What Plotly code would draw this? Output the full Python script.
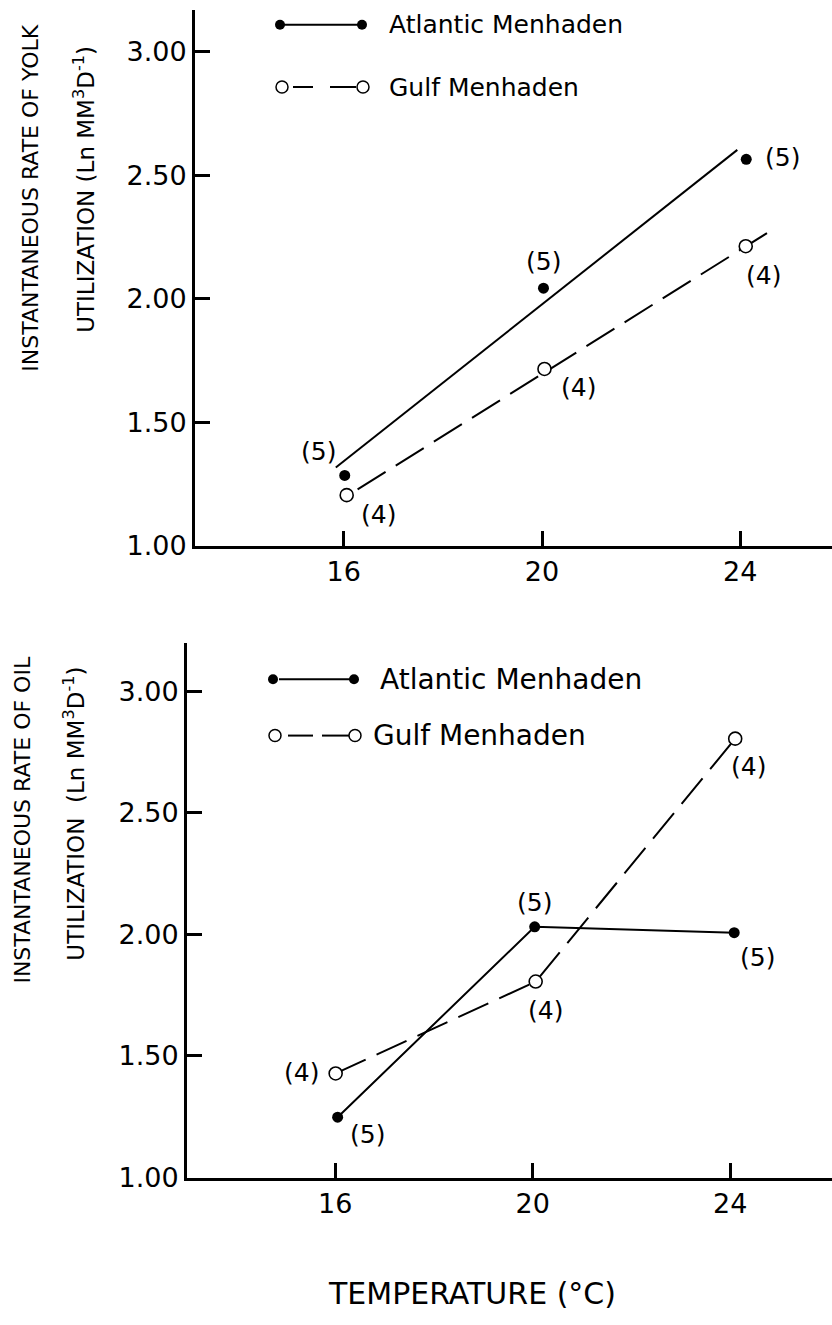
import plotly.graph_objects as go

W, H = 832, 1325
FONT = "DejaVu Sans"

# ---------------- data ----------------
# Yolk utilization (upper panel)
yolk_atl_x = [16.02, 20.03, 24.12]
yolk_atl_y = [1.285, 2.043, 2.565]
yolk_gulf_x = [16.06, 20.05, 24.11]
yolk_gulf_y = [1.205, 1.716, 2.213]
yolk_atl_n = ["(5)", "(5)", "(5)"]
yolk_gulf_n = ["(4)", "(4)", "(4)"]

# fitted lines through the yolk data (end points)
yolk_atl_fit_x = [15.84, 23.94]
yolk_atl_fit_y = [1.317, 2.603]
yolk_gulf_fit_x = [16.28, 24.61]
yolk_gulf_fit_y = [1.228, 2.275]

# Oil utilization (lower panel)
oil_atl_x = [16.05, 20.04, 24.08]
oil_atl_y = [1.248, 2.031, 2.007]
oil_gulf_x = [16.01, 20.06, 24.10]
oil_gulf_y = [1.428, 1.806, 2.805]
oil_atl_n = ["(5)", "(5)", "(5)"]
oil_gulf_n = ["(4)", "(4)", "(4)"]

xtick_vals = [16, 20, 24]
xtick_text = ["16", "20", "24"]
ytick_vals = [1.0, 1.5, 2.0, 2.5, 3.0]
ytick_text = ["1.00", "1.50", "2.00", "2.50", "3.00"]

series_names = ["Atlantic Menhaden", "Gulf Menhaden"]

# ---------------- styling / layout helpers ----------------
# count-label offsets (pixels: right, up) relative to each point
yolk_atl_off = [(-26, 24), (0, 27), (36, 2)]
yolk_gulf_off = [(32, -19), (34, -19), (18, -29)]
oil_atl_off = [(30, -17), (0, 24), (23, -25)]
oil_gulf_off = [(-34, 1), (10, -29), (13, -28)]


def px(x, y):
    """pixel position -> paper coordinates"""
    return x / W, 1 - y / H


DASH = "33px,12px"
LW = 2
FILLED = dict(color="black", size=11)
OPEN = dict(color="white", size=13, line=dict(color="black", width=1.6))

fig = go.Figure()

# ---- upper panel ----
fig.add_trace(go.Scatter(x=yolk_atl_fit_x, y=yolk_atl_fit_y, mode="lines",
                         line=dict(color="black", width=LW), xaxis="x", yaxis="y",
                         showlegend=False, hoverinfo="skip"))
fig.add_trace(go.Scatter(x=yolk_gulf_fit_x, y=yolk_gulf_fit_y, mode="lines",
                         line=dict(color="black", width=LW, dash=DASH), xaxis="x", yaxis="y",
                         showlegend=False, hoverinfo="skip"))
fig.add_trace(go.Scatter(x=yolk_atl_x, y=yolk_atl_y, mode="markers", marker=FILLED,
                         name=series_names[0], xaxis="x", yaxis="y", showlegend=False))
fig.add_trace(go.Scatter(x=yolk_gulf_x, y=yolk_gulf_y, mode="markers", marker=OPEN,
                         name=series_names[1], xaxis="x", yaxis="y", showlegend=False))

# ---- lower panel ----
fig.add_trace(go.Scatter(x=oil_atl_x, y=oil_atl_y, mode="lines",
                         line=dict(color="black", width=LW), xaxis="x2", yaxis="y2",
                         showlegend=False, hoverinfo="skip"))
fig.add_trace(go.Scatter(x=oil_gulf_x, y=oil_gulf_y, mode="lines",
                         line=dict(color="black", width=LW, dash=DASH), xaxis="x2", yaxis="y2",
                         showlegend=False, hoverinfo="skip"))
fig.add_trace(go.Scatter(x=oil_atl_x, y=oil_atl_y, mode="markers", marker=FILLED,
                         name=series_names[0], xaxis="x2", yaxis="y2", showlegend=False))
fig.add_trace(go.Scatter(x=oil_gulf_x, y=oil_gulf_y, mode="markers", marker=OPEN,
                         name=series_names[1], xaxis="x2", yaxis="y2", showlegend=False))

# ---- key glyphs (drawn on a full-page pixel axis) ----
keys = [
    dict(y=25, x0=280, x1=362, segs=[(284, 358)], tx=387, fs=25, filled=True),
    dict(y=88, x0=282, x1=363, segs=[(293, 313), (330, 356)], tx=387, fs=25, filled=False),
    dict(y=687, x0=273, x1=354, segs=[(279, 350)], tx=378, fs=28, filled=True),
    dict(y=744, x0=275, x1=355, segs=[(288, 313), (322, 349)], tx=371, fs=28, filled=False),
]
for i, k in enumerate(keys):
    sx, sy = [], []
    for a, b in k["segs"]:
        sx += [a, b, None]
        sy += [k["y"], k["y"], None]
    fig.add_trace(go.Scatter(x=sx, y=sy, mode="lines", line=dict(color="black", width=LW),
                             xaxis="x3", yaxis="y3", showlegend=False, hoverinfo="skip"))
    mk = dict(color="black", size=10) if k["filled"] else dict(color="white", size=12, line=dict(color="black", width=1.5))
    fig.add_trace(go.Scatter(x=[k["x0"], k["x1"]], y=[k["y"], k["y"]], mode="markers", marker=mk,
                             xaxis="x3", yaxis="y3", showlegend=False, hoverinfo="skip"))
    fx, fy = px(k["tx"], k["y"])
    fig.add_annotation(x=fx, y=fy, xref="paper", yref="paper", text=series_names[i % 2],
                       showarrow=False, xanchor="left", yanchor="middle",
                       font=dict(family=FONT, size=k["fs"], color="black"))

# ---- count labels ----
def add_counts(xs, ys, labels, offs, xr, yr):
    for x, y, t, (dx, dy) in zip(xs, ys, labels, offs):
        fig.add_annotation(x=x, y=y, xref=xr, yref=yr, text=t, showarrow=False,
                           xanchor="center", yanchor="middle", xshift=dx, yshift=dy,
                           font=dict(family=FONT, size=25, color="black"))

add_counts(yolk_atl_x, yolk_atl_y, yolk_atl_n, yolk_atl_off, "x", "y")
add_counts(yolk_gulf_x, yolk_gulf_y, yolk_gulf_n, yolk_gulf_off, "x", "y")
add_counts(oil_atl_x, oil_atl_y, oil_atl_n, oil_atl_off, "x2", "y2")
add_counts(oil_gulf_x, oil_gulf_y, oil_gulf_n, oil_gulf_off, "x2", "y2")

# ---- axis titles (two rotated lines per panel) ----
titles = [
    ("INSTANTANEOUS RATE OF YOLK", 31, 200, 22),
    ("UTILIZATION (Ln MM<sup>3</sup>D<sup>-1</sup>)", 84, 192, 23),
    ("INSTANTANEOUS RATE OF OIL", 23, 830, 22),
    ("UTILIZATION  (Ln MM<sup>3</sup>D<sup>-1</sup>)", 74, 823, 23),
]
for t, tx, ty, fs in titles:
    fx, fy = px(tx, ty)
    fig.add_annotation(x=fx, y=fy, xref="paper", yref="paper", text=t, textangle=-90,
                       showarrow=False, xanchor="center", yanchor="middle",
                       font=dict(family=FONT, size=fs, color="black"))

fx, fy = px(472, 1308)
fig.add_annotation(x=fx, y=fy, xref="paper", yref="paper", text="TEMPERATURE (°C)",
                   showarrow=False, xanchor="center", yanchor="middle",
                   font=dict(family=FONT, size=30, color="black"))

# ---- axes ----
axis_common = dict(showline=True, linecolor="black", linewidth=3, ticks="inside",
                   ticklen=15, tickwidth=2.5, tickcolor="black", showgrid=False,
                   zeroline=False, tickfont=dict(family=FONT, size=27, color="black"),
                   fixedrange=True)

fig.update_layout(
    width=W, height=H,
    margin=dict(l=0, r=0, t=0, b=0),
    paper_bgcolor="white",
    plot_bgcolor="rgba(0,0,0,0)",
    showlegend=False,
    xaxis=dict(domain=[195 / W, 1], range=[13, 25.85], anchor="y",
               tickvals=xtick_vals, ticktext=xtick_text, **axis_common),
    yaxis=dict(domain=[1 - 552 / H, 1 - 10 / H], range=[1, 3.17], anchor="x",
               tickvals=ytick_vals, ticktext=ytick_text, **axis_common),
    xaxis2=dict(domain=[187 / W, 1], range=[13, 26.06], anchor="y2",
                tickvals=xtick_vals, ticktext=xtick_text, **axis_common),
    yaxis2=dict(domain=[1 - 1191 / H, 1 - 650 / H], range=[1, 3.2], anchor="x2",
                tickvals=ytick_vals, ticktext=ytick_text, **axis_common),
    xaxis3=dict(domain=[0, 1], range=[0, W], anchor="y3", visible=False, fixedrange=True),
    yaxis3=dict(domain=[0, 1], range=[H, 0], anchor="x3", visible=False, fixedrange=True),
)

fig.write_html("out.html")
